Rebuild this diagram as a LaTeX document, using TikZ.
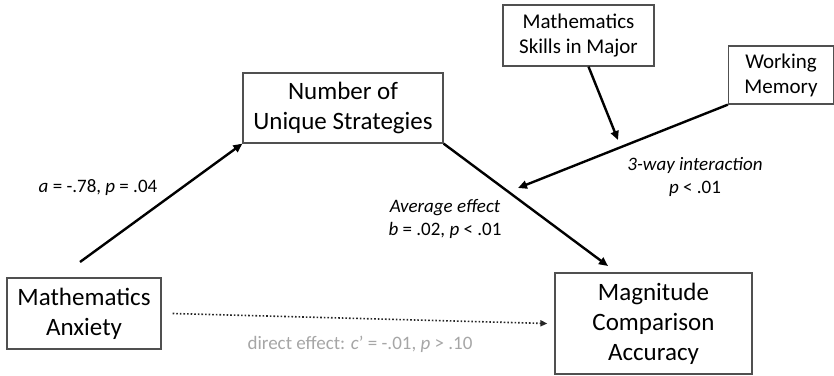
\documentclass[tikz,border=0pt]{standalone}
\usepackage{fontspec}
\setmainfont{Carlito}
\usepackage{xcolor}
\definecolor{medgray}{RGB}{166, 166, 166}
\definecolor{boxline}{RGB}{80, 80, 80}
\usetikzlibrary{arrows.meta, positioning}
\tikzset{
  varbox/.style = {
    rectangle,
    draw=boxline,
    fill=white,
    text=black,
    font=\fontsize{25}{30}\selectfont,
    align=center,
    inner sep=2pt,
    line width=1.3pt
  },
  modbox/.style = {
    varbox,
    font=\fontsize{21}{25}\selectfont
  },
  pathlabel/.style = {
    font=\fontsize{19}{23}\selectfont,
    align=center,
    inner sep=0pt
  },
  patharrow/.style = {
    -{Triangle[length=9pt, width=8pt]},
    line width=2.4pt,
    draw=black
  },
  directarrow/.style = {
    -{Triangle[length=7pt, width=6pt]},
    line width=1.6pt,
    dotted,
    draw=black!85
  }
}

\begin{document}
\begin{tikzpicture}[x=1pt, y=-1pt]
  \useasboundingbox (0, 0) rectangle (834, 375);

  % Variables of the mediation model
  \node[varbox, minimum width=154pt, minimum height=71pt] (anxiety) at (84, 313.5) {Mathematics\\Anxiety};
  \node[varbox, minimum width=200pt, minimum height=70pt] (strategies) at (343, 108) {Number of\\Unique Strategies};
  \node[varbox, minimum width=197pt, minimum height=101pt] (accuracy) at (653.5, 323.5) {Magnitude\\Comparison\\Accuracy};

  % Moderators
  \node[modbox, minimum width=151pt, minimum height=61pt] (skills) at (578.5, 35.5) {Mathematics\\Skills in Major};
  \node[modbox, minimum width=105pt, minimum height=58pt] (memory) at (781, 75) {Working\\Memory};

  % Free ends of the paths
  \coordinate (astart) at (80, 262);
  \coordinate (bend) at (608, 266);
  \coordinate (skillsend) at (618, 140);
  \coordinate (memoryend) at (518, 188);

  % Path labels
  \node[pathlabel] (alabel) at (98, 188) {\textit{a} = -.78, \textit{p} = .04};
  \node[pathlabel] (blabel) at (445, 219) {\textit{Average effect}\\\textit{b} = .02, \textit{p} < .01};
  \node[pathlabel] (intlabel) at (695, 177) {\textit{3-way interaction}\\\textit{p} < .01};
  \node[pathlabel, text=medgray] (clabel) at (360, 344) {direct effect: \textit{c}’ = -.01, \textit{p} > .10};

  % Paths
  \draw[patharrow] (astart) -- (strategies.south west);
  \draw[patharrow] (strategies.south east) -- (bend);
  \draw[directarrow] ([xshift=11pt]anxiety.east) -- ([xshift=-7pt]accuracy.west);

  \draw[patharrow] ([xshift=10pt]skills.south) -- (skillsend);
  \draw[patharrow] (memory.south west) -- (memoryend);
\end{tikzpicture}
\end{document}
